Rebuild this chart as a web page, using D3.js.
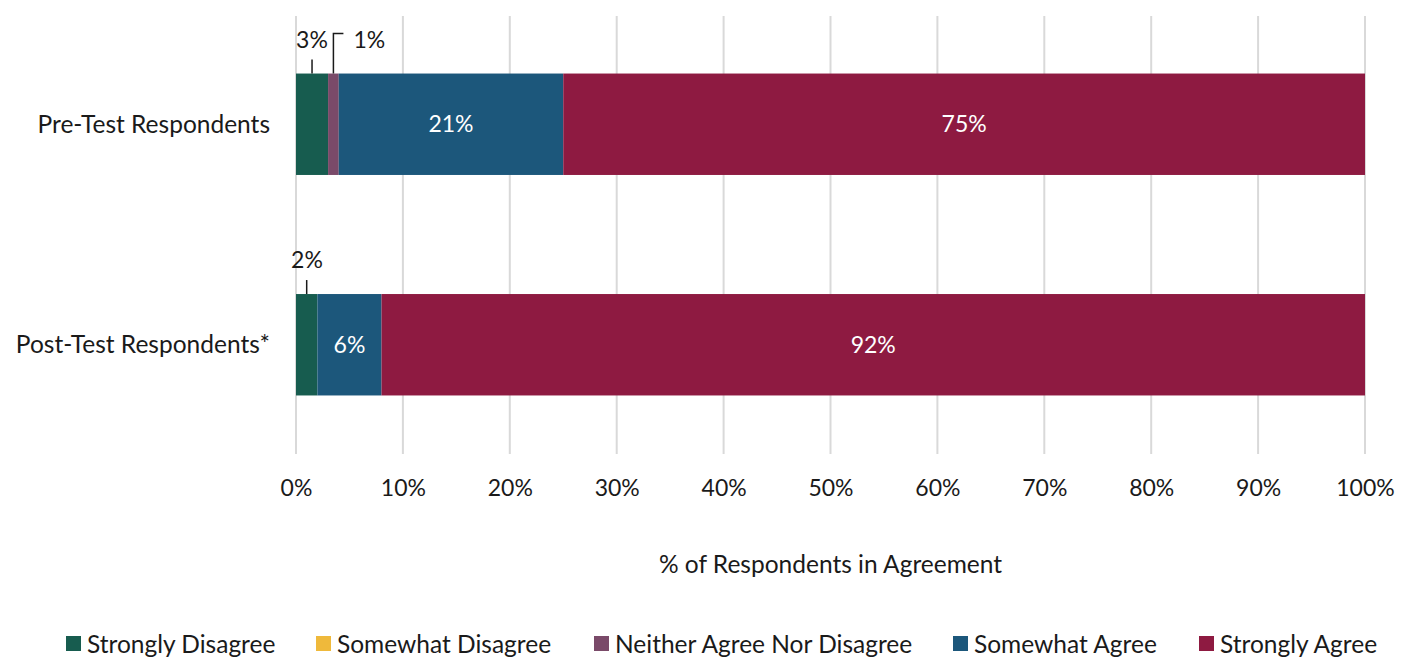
<!DOCTYPE html>
<html><head><meta charset="utf-8">
<script src="https://cdn.jsdelivr.net/npm/d3@7"></script>
<style>body{margin:0;background:#fff}svg{display:block}text{font-family:Lato,"Open Sans",sans-serif;fill:#1a1a1a}</style>
</head><body><svg id="c" width="1410" height="660"></svg>
<script>
const categories = ["Pre-Test Respondents", "Post-Test Respondents*"];
const seriesNames = ["Strongly Disagree", "Somewhat Disagree", "Neither Agree Nor Disagree", "Somewhat Agree", "Strongly Agree"];
const seriesColors = ["#175c4f", "#efb93b", "#7a4a69", "#1c577b", "#8e1a41"];
const strongDisagree = [3, 2];
const somewhatDisagree = [0, 0];
const neither = [1, 0];
const somewhatAgree = [21, 6];
const stronglyAgree = [75, 92];
const tickValues = [0,10,20,30,40,50,60,70,80,90,100];
const axisTitle = "% of Respondents in Agreement";

const WORD = 24.5, NUM = 23;
const series = [strongDisagree, somewhatDisagree, neither, somewhatAgree, stronglyAgree];
const svg = d3.select("#c");
const x = d3.scaleLinear().domain([0,100]).range([296,1365]);
const y = d3.scaleBand().domain(categories).range([14,455]).paddingInner(0.54).paddingOuter(0.27);

svg.append("g").selectAll("line").data(tickValues).join("line")
  .attr("x1", d=>x(d)).attr("x2", d=>x(d)).attr("y1", 16).attr("y2", 454)
  .attr("stroke", "#d9d9d9").attr("stroke-width", 2);

const ax = svg.append("g").attr("transform","translate(0,454)")
  .call(d3.axisBottom(x).tickValues(tickValues).tickFormat(d=>d+"%").tickSize(0).tickPadding(26));
ax.select(".domain").remove();
ax.selectAll("text").attr("font-size", NUM).attr("font-family","Lato,'Open Sans',sans-serif").attr("fill","#1a1a1a");

const stacks = categories.map((c,i)=>{let acc=0;return series.map((s,j)=>{const v=s[i];const r={cat:c,j,x0:acc,x1:acc+v,v};acc+=v;return r;});});
const bars = svg.append("g");
stacks.forEach(row=>{
  bars.selectAll(null).data(row.filter(d=>d.v>0)).join("rect")
    .attr("x", d=>x(d.x0)).attr("width", d=>x(d.x1)-x(d.x0))
    .attr("y", d=>y(d.cat)).attr("height", y.bandwidth())
    .attr("fill", d=>seriesColors[d.j]);
});

stacks.forEach(row=>{
  row.filter(d=>d.v>=5).forEach(d=>{
    svg.append("text").attr("x",(x(d.x0)+x(d.x1))/2).attr("y",y(d.cat)+y.bandwidth()/2)
      .attr("text-anchor","middle").attr("dy","0.35em").attr("font-size",NUM)
      .style("fill","#fff").text(d.v+"%");
  });
});

const callG = svg.append("g");
function callout(d, lx, ly, bend){
  const cx = (x(d.x0)+x(d.x1))/2, top = y(d.cat);
  if(bend){
    callG.append("path").attr("d",`M${cx},${top} V${ly-6} H${cx+10}`).attr("fill","none").attr("stroke","#1a1a1a").attr("stroke-width",1.5);
    callG.append("text").attr("x",cx+20).attr("y",ly).attr("dy","0.35em").attr("font-size",NUM).text(d.v+"%");
  } else {
    callG.append("line").attr("x1",cx).attr("x2",cx).attr("y1",top).attr("y2",top-14).attr("stroke","#1a1a1a").attr("stroke-width",1.5);
    callG.append("text").attr("x",lx).attr("y",top-34).attr("text-anchor","middle").attr("dy","0.35em").attr("font-size",NUM).text(d.v+"%");
  }
}
callout(stacks[0][0], x(stacks[0][0].x0)+16, 0, false);
callout(stacks[0][2], 0, y(categories[0])-34, true);
callout(stacks[1][0], x(0)+11, 0, false);

svg.append("g").selectAll("text").data(categories).join("text")
  .attr("x", 270).attr("y", d=>y(d)+y.bandwidth()/2).attr("dy","0.35em")
  .attr("text-anchor","end").attr("font-size",WORD).text(d=>d);

svg.append("text").attr("x", (x(0)+x(100))/2).attr("y", 564).attr("dy","0.35em")
  .attr("text-anchor","middle").attr("font-size",WORD).text(axisTitle);

const lg = svg.append("g");
const legendX = [66, 316, 594, 953, 1199];
seriesNames.forEach((n,i)=>{
  lg.append("rect").attr("x",legendX[i]).attr("y",636).attr("width",15).attr("height",15).attr("fill",seriesColors[i]);
  lg.append("text").attr("x",legendX[i]+21).attr("y",644).attr("dy","0.35em").attr("font-size",WORD).text(n);
});
</script></body></html>
